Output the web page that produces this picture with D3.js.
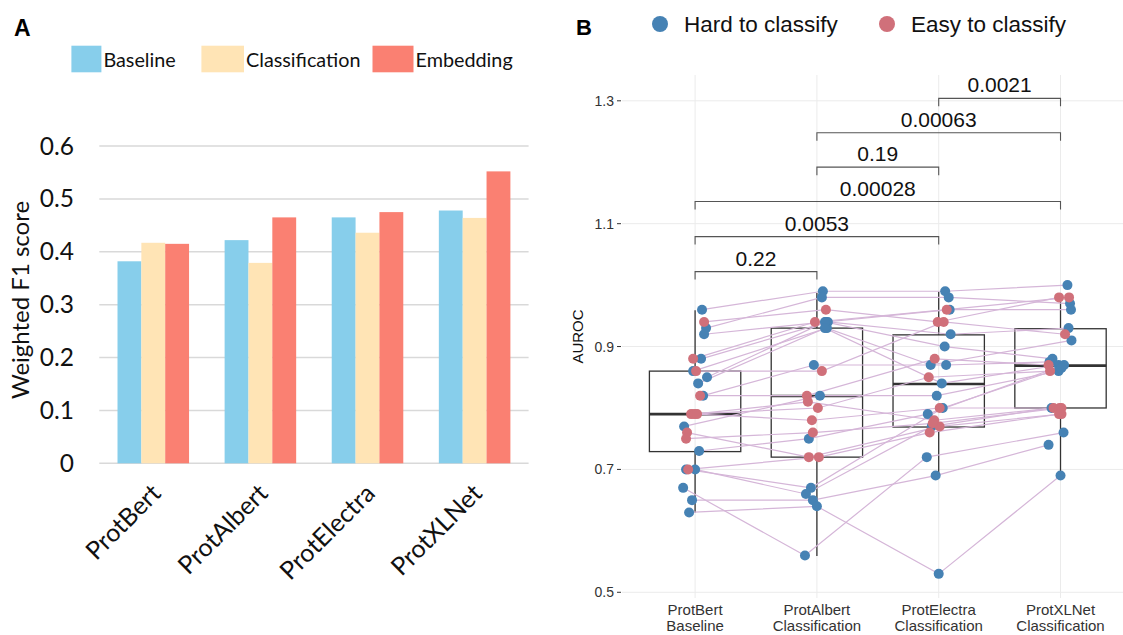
<!DOCTYPE html>
<html>
<head>
<meta charset="utf-8">
<script src="https://cdn.jsdelivr.net/npm/d3@7"></script>
<style>
  body { margin: 0; background: #fff; }
  svg { display: block; }
</style>
</head>
<body>
<div class="chart"></div>
<script>
const width = 1123;
const height = 635;

// ---- panel A data ----
const models = ["ProtBert", "ProtAlbert", "ProtElectra", "ProtXLNet"];
const methods = ["Baseline", "Classification", "Embedding"];
const baselineF1 = [0.382, 0.422, 0.465, 0.478];
const classificationF1 = [0.417, 0.379, 0.436, 0.464];
const embeddingF1 = [0.415, 0.465, 0.475, 0.552];
const f1Ticks = [0, 0.1, 0.2, 0.3, 0.4, 0.5, 0.6];
const methodColors = ["#87CEEB", "#FFE4B5", "#FA8072"];

// ---- panel B data ----
const aurocLabels = [
  ["ProtBert", "Baseline"],
  ["ProtAlbert", "Classification"],
  ["ProtElectra", "Classification"],
  ["ProtXLNet", "Classification"],
];
const aurocTicks = [0.5, 0.7, 0.9, 1.1, 1.3];
const difficulty = [
  "Hard", "Hard", "Hard", "Hard", "Hard", "Hard", "Hard", "Hard", "Hard", "Hard",
  "Hard", "Hard", "Hard", "Hard", "Hard",
  "Easy", "Easy", "Easy", "Easy", "Easy", "Easy", "Easy", "Easy", "Easy", "Easy",
];
const bertAuroc = [0.96, 0.93, 0.92, 0.88, 0.86, 0.85, 0.84, 0.82, 0.77, 0.73, 0.70, 0.70, 0.67, 0.65, 0.63,
  0.94, 0.88, 0.86, 0.82, 0.79, 0.79, 0.79, 0.76, 0.75, 0.70];
const albertAuroc = [0.99, 0.98, 0.94, 0.94, 0.93, 0.94, 0.93, 0.87, 0.82, 0.75, 0.67, 0.66, 0.56, 0.65, 0.64,
  0.96, 0.94, 0.86, 0.82, 0.80, 0.81, 0.78, 0.72, 0.76, 0.72];
const electraAuroc = [0.99, 0.98, 0.96, 0.92, 0.87, 0.90, 0.84, 0.87, 0.82, 0.79, 0.80, 0.77, 0.72, 0.69, 0.53,
  0.94, 0.96, 0.94, 0.88, 0.85, 0.78, 0.80, 0.77, 0.775, 0.76];
const xlnetAuroc = [1.00, 0.97, 0.96, 0.93, 0.91, 0.88, 0.87, 0.875, 0.86, 0.87, 0.865, 0.80, 0.76, 0.74, 0.69,
  0.98, 0.98, 0.92, 0.87, 0.86, 0.80, 0.80, 0.79, 0.80, 0.79];
// horizontal jitter, in category units
const bertJitter = [0.057, 0.09, 0.074, 0.049, -0.016, 0.098, 0.025, 0.066, -0.09, 0.033, -0.074, 0, -0.098, -0.025, -0.049,
  0.074, -0.016, 0.008, 0.041, -0.033, -0.008, 0.016, -0.066, -0.074, -0.057];
const albertJitter = [0.049, 0.041, 0.074, 0.09, 0.082, 0.066, 0.066, -0.025, 0.025, -0.066, -0.049, -0.09, -0.098, -0.033, 0,
  0.074, -0.016, 0.041, -0.082, 0.008, -0.074, -0.041, -0.066, -0.033, 0.016];
const electraJitter = [0.053, 0.082, 0.09, 0.098, -0.066, 0.049, 0.025, 0.061, -0.016, -0.09, 0.033, -0.057, -0.098, -0.025, 0,
  -0.008, 0.066, 0.041, -0.033, -0.082, -0.037, 0.008, 0.008, -0.049, -0.074];
const xlnetJitter = [0.057, 0.078, 0.086, 0.066, 0.09, -0.066, -0.016, -0.09, -0.016, 0.029, 0.008, -0.074, 0.025, -0.098, 0,
  -0.012, 0.07, 0.037, -0.098, -0.086, -0.057, -0.008, 0.008, 0.008, -0.012];
// box summaries (lower whisker, Q1, median, Q3, upper whisker)
const boxLow = [0.630, 0.559, 0.689, 0.689];
const boxQ1 = [0.729, 0.720, 0.769, 0.800];
const boxMedian = [0.790, 0.8195, 0.839, 0.869];
const boxQ3 = [0.860, 0.930, 0.919, 0.929];
const boxHigh = [0.959, 0.987, 0.989, 0.987];
// pairwise comparisons
const bracketFrom = [0, 0, 0, 1, 1, 2];
const bracketTo = [1, 2, 3, 2, 3, 3];
const bracketP = ["0.22", "0.0053", "0.00028", "0.19", "0.00063", "0.0021"];
const bracketLevel = [1.022, 1.079, 1.136, 1.192, 1.248, 1.304];

const groupColors = { Hard: "#4682B4", Easy: "#D0707A" };
const groupNames = { Hard: "Hard to classify", Easy: "Easy to classify" };

const svg = d3
  .select(".chart")
  .append("svg")
  .attr("width", width)
  .attr("height", height);

const fontA = "Lato, 'Open Sans', sans-serif";
const fontB = "'Liberation Sans', Arial, sans-serif";

// ================= PANEL A =================
const xA = d3.scaleBand().domain(models).range([99.3, 528.6]).paddingInner(0.332).paddingOuter(0.17);
const xMethod = d3.scaleBand().domain(methods).range([0, xA.bandwidth()]);
const yA = d3.scaleLinear().domain([0, 0.6]).range([463.3, 146]);

function drawPanelA() {
  const g = svg.append("g");

  g.append("text")
    .attr("x", 14)
    .attr("y", 36)
    .attr("font-family", fontB)
    .attr("font-weight", "bold")
    .attr("font-size", 23)
    .text("A");

  // gridlines
  g.selectAll(".gridA")
    .data(f1Ticks)
    .enter()
    .append("line")
    .attr("x1", 99.3)
    .attr("x2", 528.6)
    .attr("y1", (d) => yA(d))
    .attr("y2", (d) => yA(d))
    .attr("stroke", "#D9D9D9")
    .attr("stroke-width", 1.5);

  // tick labels
  g.selectAll(".tickA")
    .data(f1Ticks)
    .enter()
    .append("text")
    .attr("x", 74)
    .attr("y", (d) => yA(d) + 8.5)
    .attr("text-anchor", "end")
    .attr("font-family", fontA)
    .attr("font-size", 24.5)
    .attr("fill", "#111")
    .text((d) => (d === 0 ? "0" : d.toFixed(1)));

  const series = [baselineF1, classificationF1, embeddingF1];
  series.forEach((vals, j) => {
    g.selectAll(".bar" + j)
      .data(vals)
      .enter()
      .append("rect")
      .attr("x", (d, i) => xA(models[i]) + xMethod(methods[j]))
      .attr("width", xMethod.bandwidth())
      .attr("y", (d) => yA(d))
      .attr("height", (d) => yA(0) - yA(d))
      .attr("fill", methodColors[j]);
  });

  // x labels
  g.selectAll(".xlabA")
    .data(models)
    .enter()
    .append("text")
    .attr("transform", (d) => `translate(${xA(d) + xA.bandwidth() / 2 + 9},${495}) rotate(-45)`)
    .attr("text-anchor", "end")
    .attr("font-family", fontA)
    .attr("font-size", 25)
    .attr("fill", "#111")
    .text((d) => d);

  // y title
  g.append("text")
    .attr("transform", `translate(29,300) rotate(-90)`)
    .attr("text-anchor", "middle")
    .attr("font-family", fontA)
    .attr("font-size", 24)
    .attr("fill", "#111")
    .text("Weighted F1 score");

  // legend
  const legendX = [71.4, 201.4, 372.5];
  const legendW = [30, 42.6, 41];
  methods.forEach((m, j) => {
    g.append("rect")
      .attr("x", legendX[j])
      .attr("y", 45.7)
      .attr("width", legendW[j])
      .attr("height", 26.6)
      .attr("fill", methodColors[j]);
    g.append("text")
      .attr("x", legendX[j] + legendW[j] + 2)
      .attr("y", 67)
      .attr("font-family", fontA)
      .attr("font-size", 19.8)
      .attr("fill", "#111")
      .text(m);
  });
}

// ================= PANEL B =================
const xB = d3.scalePoint().domain(d3.range(4)).range([622, 1133.6]).padding(0.6);
const yB = d3.scaleLinear().domain([0.4907, 1.342]).range([598, 75]);
const aurocValues = [bertAuroc, albertAuroc, electraAuroc, xlnetAuroc];
const aurocJitter = [bertJitter, albertJitter, electraJitter, xlnetJitter];

function pointX(col, i) {
  return xB(col) + aurocJitter[col][i] * xB.step();
}

function drawPanelB() {
  const g = svg.append("g");

  g.append("text")
    .attr("x", 576)
    .attr("y", 35)
    .attr("font-family", fontB)
    .attr("font-weight", "bold")
    .attr("font-size", 22)
    .text("B");

  // legend
  const legendKeys = ["Hard", "Easy"];
  const legendCx = [660, 887];
  legendKeys.forEach((k, j) => {
    g.append("circle")
      .attr("cx", legendCx[j])
      .attr("cy", 24)
      .attr("r", 8)
      .attr("fill", groupColors[k]);
    g.append("text")
      .attr("x", legendCx[j] + 24)
      .attr("y", 32)
      .attr("font-family", fontB)
      .attr("font-size", 22.5)
      .attr("fill", "#111")
      .text(groupNames[k]);
  });

  // gridlines
  g.selectAll(".gridBy")
    .data(aurocTicks)
    .enter()
    .append("line")
    .attr("x1", 622)
    .attr("x2", width)
    .attr("y1", (d) => yB(d))
    .attr("y2", (d) => yB(d))
    .attr("stroke", "#EBEBEB")
    .attr("stroke-width", 1);

  g.selectAll(".gridBx")
    .data(d3.range(4))
    .enter()
    .append("line")
    .attr("x1", (d) => xB(d))
    .attr("x2", (d) => xB(d))
    .attr("y1", 75)
    .attr("y2", 598)
    .attr("stroke", "#EBEBEB")
    .attr("stroke-width", 1);

  // y axis ticks + labels
  g.selectAll(".tickB")
    .data(aurocTicks)
    .enter()
    .append("line")
    .attr("x1", 617)
    .attr("x2", 621)
    .attr("y1", (d) => yB(d))
    .attr("y2", (d) => yB(d))
    .attr("stroke", "#333");

  g.selectAll(".tickLabB")
    .data(aurocTicks)
    .enter()
    .append("text")
    .attr("x", 614)
    .attr("y", (d) => yB(d) + 5)
    .attr("text-anchor", "end")
    .attr("font-family", fontB)
    .attr("font-size", 14)
    .attr("fill", "#333")
    .text((d) => d.toFixed(1));

  g.append("text")
    .attr("transform", `translate(583,${(75 + 598) / 2}) rotate(-90)`)
    .attr("text-anchor", "middle")
    .attr("font-family", fontB)
    .attr("font-size", 15)
    .attr("fill", "#111")
    .text("AUROC");

  // x labels
  aurocLabels.forEach((lab, c) => {
    const t = g
      .append("text")
      .attr("text-anchor", "middle")
      .attr("font-family", fontB)
      .attr("font-size", 15)
      .attr("fill", "#333");
    t.append("tspan").attr("x", xB(c)).attr("y", 615).text(lab[0]);
    t.append("tspan").attr("x", xB(c)).attr("y", 631).text(lab[1]);
  });

  // boxes
  const boxW = xB.step() * 0.75;
  d3.range(4).forEach((c) => {
    const cx = xB(c);
    g.append("line")
      .attr("x1", cx).attr("x2", cx)
      .attr("y1", yB(boxHigh[c])).attr("y2", yB(boxQ3[c]))
      .attr("stroke", "#333").attr("stroke-width", 1.3);
    g.append("line")
      .attr("x1", cx).attr("x2", cx)
      .attr("y1", yB(boxQ1[c])).attr("y2", yB(boxLow[c]))
      .attr("stroke", "#333").attr("stroke-width", 1.3);
    g.append("rect")
      .attr("x", cx - boxW / 2)
      .attr("y", yB(boxQ3[c]))
      .attr("width", boxW)
      .attr("height", yB(boxQ1[c]) - yB(boxQ3[c]))
      .attr("fill", "none")
      .attr("stroke", "#333")
      .attr("stroke-width", 1.3);
    g.append("line")
      .attr("x1", cx - boxW / 2).attr("x2", cx + boxW / 2)
      .attr("y1", yB(boxMedian[c])).attr("y2", yB(boxMedian[c]))
      .attr("stroke", "#333").attr("stroke-width", 2.6);
  });

  // paired lines
  const line = d3.line();
  difficulty.forEach((grp, i) => {
    const pts = d3.range(4).map((c) => [pointX(c, i), yB(aurocValues[c][i])]);
    g.append("path")
      .attr("d", line(pts))
      .attr("fill", "none")
      .attr("stroke", "#D5B6D8")
      .attr("stroke-width", 1.2);
  });

  // points
  d3.range(4).forEach((c) => {
    g.selectAll(".pt" + c)
      .data(aurocValues[c])
      .enter()
      .append("circle")
      .attr("cx", (d, i) => pointX(c, i))
      .attr("cy", (d) => yB(d))
      .attr("r", 5)
      .attr("fill", (d, i) => groupColors[difficulty[i]]);
  });

  // significance brackets
  const tip = 8;
  bracketP.forEach((p, k) => {
    const x1 = xB(bracketFrom[k]);
    const x2 = xB(bracketTo[k]);
    const yy = yB(bracketLevel[k]);
    g.append("path")
      .attr("d", `M${x1},${yy + tip}V${yy}H${x2}V${yy + tip}`)
      .attr("fill", "none")
      .attr("stroke", "#555")
      .attr("stroke-width", 1.1);
    g.append("text")
      .attr("x", (x1 + x2) / 2)
      .attr("y", yy - 6)
      .attr("text-anchor", "middle")
      .attr("font-family", fontB)
      .attr("font-size", 21)
      .attr("fill", "#111")
      .text(p);
  });
}

drawPanelA();
drawPanelB();
</script>
</body>
</html>
